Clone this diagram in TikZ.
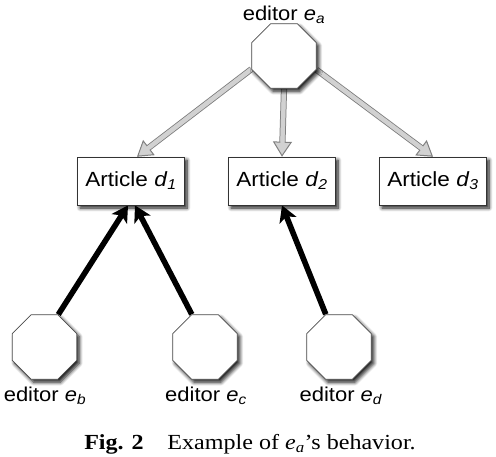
\documentclass[tikz,border=0pt]{standalone}
\usepackage{fontspec}
\setmainfont[FakeStretch=1.1]{Liberation Sans}
\newfontfamily\captionserif[FakeStretch=1.12]{Liberation Serif}
\usetikzlibrary{shapes.geometric, shadows.blur, arrows.meta, backgrounds, calc}

\colorlet{hollowedge}{black!50}
\colorlet{hollowfill}{black!18}

\tikzset{
  softshadow/.style={blur shadow={shadow xshift=2.5pt, shadow yshift=-3pt,
    shadow blur radius=3.5pt, shadow blur steps=8, shadow opacity=90}},
  editor/.style={regular polygon, regular polygon sides=8, minimum size=70pt,
    inner sep=0pt, draw=black!70, line width=0.7pt, fill=white, softshadow},
  article/.style={rectangle, draw=black!80, line width=0.7pt, fill=white,
    minimum width=107pt, minimum height=48pt, inner sep=0pt,
    font=\fontsize{20.5}{22}\selectfont, softshadow},
  lbl/.style={font=\fontsize{20}{22}\selectfont, inner sep=0pt, anchor=base},
  % hollow grey arrow: outline shaft, filled shaft with tip, then a patch over the tip's back edge
  hollowouter/.style={line width=6.2pt, draw=hollowedge, shorten >=13pt},
  hollowinner/.style={line width=4.2pt, draw=hollowfill,
    -{Triangle[length=15pt, width=19pt, fill=hollowfill, color=hollowedge, line width=1pt]}},
  hollowpatch/.style={line width=4.2pt, draw=hollowfill, shorten >=12pt},
  vote/.style={line width=5.6pt, draw=black, -{Stealth[length=16pt, width=18pt, inset=4pt]}},
}

\newcommand{\edname}[1]{editor \textit{e}\textsubscript{\textit{#1}}}

\begin{document}
\begin{tikzpicture}[x=1pt, y=-1pt]
  \useasboundingbox (0,0) rectangle (496,456);

  % editors and articles
  \node[editor] (ea) at (284,56) {};
  \node[editor] (eb) at (44.5,347) {};
  \node[editor] (ec) at (205,347) {};
  \node[editor] (ed) at (339,347) {};

  \node[article] (d1) at (131,181) {Article \textit{d}\textsubscript{\textit{1}}};
  \node[article] (d2) at (282,181) {Article \textit{d}\textsubscript{\textit{2}}};
  \node[article] (d3) at (433,181) {Article \textit{d}\textsubscript{\textit{3}}};

  % labels
  \node[lbl] (la) at (284,20) {\edname{a}};
  \node[lbl] (lb) at (45,401) {\edname{b}};
  \node[lbl] (lc) at (206,401) {\edname{c}};
  \node[lbl] (ld) at (341,401) {\edname{d}};

  % caption
  \node[inner sep=0pt, anchor=base, font=\captionserif\fontsize{21.5}{24}\selectfont] (cap) at (250,449)
    {\textbf{Fig. 2}\hspace{1.1em}Example of \textit{e}\textsubscript{\textit{a}}’s behavior.};

  % arrow end points on the articles
  \coordinate (t1) at ($(d1.north)+(6,0)$);
  \coordinate (t2) at (d2.north);
  \coordinate (t3) at (d3.north);
  \coordinate (b1) at ($(d1.south)+(-3,0)$);
  \coordinate (b2) at ($(d1.south)+(4,0)$);
  \coordinate (b3) at (d2.south);

  \begin{scope}[on background layer]
    % grey arrows from e_a to the articles
    \foreach \src/\dst in {ea.202.5/t1, ea.south/t2, ea.337.5/t3} {
      \draw[hollowouter] (\src) -- (\dst);
      \draw[hollowinner] (\src) -- (\dst);
      \draw[hollowpatch] (\src) -- (\dst);
    }
    % black arrows from the other editors
    \draw[vote] (eb.67.5) -- (b1);
    \draw[vote] (ec.112.5) -- (b2);
    \draw[vote] (ed.112.5) -- (b3);
  \end{scope}
\end{tikzpicture}
\end{document}
